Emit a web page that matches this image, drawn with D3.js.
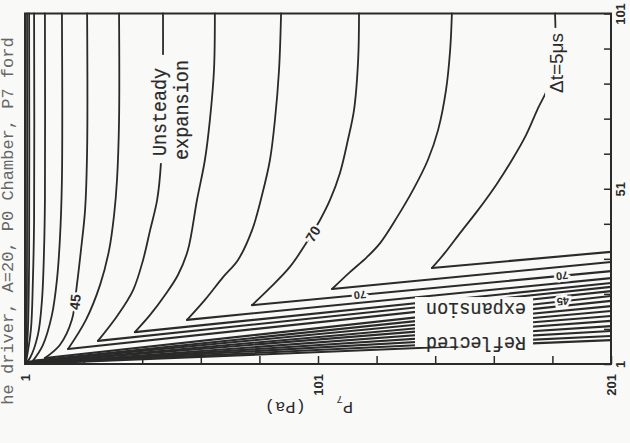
<!DOCTYPE html>
<html>
<head>
<meta charset="utf-8">
<script src="https://cdn.jsdelivr.net/npm/d3@7"></script>
<style>
body { margin: 0; background: #f9f9f7; }
svg { display: block; }
.mono { font-family: "Liberation Mono", "Courier New", Courier, "DejaVu Sans Mono", monospace; }
</style>
</head>
<body>
<script>
// contour levels, delta t = 5 us
const levels = [80, 75, 70, 65, 60, 55, 50, 45, 40, 35, 30, 25, 20, 15, 10, 5, 0];

// unsteady expansion branches, [P7 (Pa), t], from the top edge down to the cusp
const u80 = [[181.9,101.0],[181.9,92.0],[179.8,80.6],[176.1,74.0],[172.0,66.3],[167.2,59.2],[161.8,52.1],[155.6,44.9],[149.8,38.7],[144.3,32.7],[139.9,28.4]];
const u75 = [[146.7,101.0],[146.1,90.6],[144.7,79.2],[142.0,67.8],[138.5,59.2],[133.4,50.6],[128.0,42.9],[122.2,35.5],[117.7,31.5],[111.9,27.2],[105.8,22.4]];
const u70 = [[115.0,101.0],[114.7,87.7],[113.3,73.5],[111.2,64.9],[108.5,55.5],[105.1,47.8],[101.7,42.1],[96.6,35.0],[91.4,28.7],[84.6,22.7],[78.5,17.8]];
const u65 = [[88.4,101.0],[87.7,84.9],[86.3,70.6],[84.6,59.2],[81.9,49.2],[78.5,39.2],[73.7,30.7],[68.6,25.8],[62.4,19.3],[56.3,13.6]];
const u60 = [[65.8,101.0],[65.5,84.9],[64.1,70.6],[62.4,59.2],[59.7,47.8],[56.6,33.5],[53.2,26.4],[48.8,20.7],[43.7,15.0],[38.5,10.1]];
const u55 = [[48.1,101.0],[48.1,87.7],[47.8,70.6],[47.4,58.3],[46.1,47.8],[43.7,39.2],[41.3,30.7],[37.9,22.1],[32.7,15.0],[25.9,7.6]];
const u50 = [[33.1,101.0],[33.1,70.6],[32.4,53.5],[31.4,43.5],[29.7,33.5],[26.6,23.5],[21.8,13.6],[15.7,5.3]];
const u45 = [[22.2,101.0],[22.2,62.1],[21.5,44.9],[20.1,33.5],[18.7,23.5],[17.0,13.6],[12.9,6.4],[7.8,2.7]];
const u40 = [[13.6,101.0],[13.6,53.5],[12.9,36.4],[11.9,25.0],[10.2,15.0],[7.1,6.4],[3.7,1.9]];
const u35 = [[7.8,101.0],[7.8,47.8],[7.5,33.5],[6.8,19.3],[5.4,9.3],[2.7,2.7],[1.7,1.6]];
const u30 = [[4.1,101.0],[4.1,42.1],[3.7,25.0],[3.0,10.7],[1.3,1.3]];
const u25 = [[2.4,101.0],[2.4,30.7],[2.0,10.7],[1.3,1.3]];
const u20 = [[1.7,101.0],[1.7,40.0],[1.5,10.0],[1.0,1.0]];
const unsteady = [u80, u75, u70, u65, u60, u55, u50, u45, u40, u35, u30, u25, u20, null, null, null, null];

// reflected expansion: t where each contour meets the P7 = 201 edge
const reflectedEnd = [33.0, 30.1, 27.5, 25.5, 24.1, 23.0, 21.8, 20.4, 19.0, 17.5, 16.1, 14.7, 13.3, 11.8, 10.4, 9.0, 7.8];
const origin = [1, 1];

// labels on the reflected part: [level, P7]
const fanLabels = [[70, 115.3], [70, 184.3], [45, 184.6]];

const xTicks = d3.range(1, 202, 20);
const xLabels = [1, 101, 201];
const yTicks = d3.range(1, 102, 10);
const yLabels = [1, 51, 101];

const W = 630, H = 443, BG = "#f9f9f7", INK = "#2a2a2a";

const x = d3.scaleLinear().domain([1, 201]).range([25, 611]);
const y = d3.scaleLinear().domain([1, 101]).range([364, 13.5]);

const svg = d3.select("body").append("svg").attr("width", W).attr("height", H);
svg.append("rect").attr("width", W).attr("height", H).attr("fill", BG);

// caption cut off at the page edge
svg.append("text").attr("class", "mono")
  .attr("transform", "translate(13,221) rotate(-90)")
  .attr("text-anchor", "middle")
  .style("font-size", "17px")
  .attr("fill", "#666")
  .text("he driver, A=20, P0 Chamber, P7 ford");

const line = d3.line().x(d => x(d[0])).y(d => y(d[1])).curve(d3.curveCatmullRom.alpha(0.5));

const table = levels.map((lev, i) => {
  const up = unsteady[i];
  const cusp = up ? up[up.length - 1] : origin;
  return { lev, up, cusp, end: [201, reflectedEnd[i]] };
});

const g = svg.append("g")
  .attr("fill", "none").attr("stroke", INK)
  .attr("stroke-linejoin", "round").attr("stroke-linecap", "round");

// unsteady branch
g.selectAll("path.u").data(table.filter(d => d.up)).enter().append("path")
  .attr("class", "u").attr("stroke-width", 1.8)
  .attr("d", d => line(d.up));

// reflected branch, cusp to right edge
g.selectAll("path.r").data(table).enter().append("path")
  .attr("class", "r").attr("stroke-width", 2.1)
  .attr("d", d => d3.line()([[x(d.cusp[0]), y(d.cusp[1])], [x(d.end[0]), y(d.end[1])]]));

// label gaps
svg.append("rect")
  .attr("x", x(42.6)).attr("y", y(89.2))
  .attr("width", x(59.0) - x(42.6)).attr("height", y(58.3) - y(89.2))
  .attr("fill", BG);
svg.append("rect")
  .attr("x", x(178.5)).attr("y", y(96.9))
  .attr("width", x(185.6) - x(178.5)).attr("height", y(76.3) - y(96.9))
  .attr("fill", BG);
svg.append("rect")
  .attr("x", x(134.1)).attr("y", y(20.1))
  .attr("width", x(174.4) - x(134.1)).attr("height", y(5.9) - y(20.1))
  .attr("fill", BG);

const mono = sel => sel.attr("class", "mono").style("font-size", "21px")
  .attr("fill", INK).attr("stroke", INK).attr("stroke-width", 0.2)
  .attr("lengthAdjust", "spacingAndGlyphs").attr("text-anchor", "middle");

svg.append("text").call(mono).attr("textLength", 88)
  .attr("transform", "translate(166,112) rotate(-90)").text("Unsteady");
svg.append("text").call(mono).attr("textLength", 100)
  .attr("transform", "translate(188,110) rotate(-90)").text("expansion");
svg.append("text").call(mono).attr("textLength", 100)
  .attr("transform", "translate(476,337) rotate(180)").text("Reflected");
svg.append("text").call(mono).attr("textLength", 100)
  .attr("transform", "translate(476,303) rotate(180)").text("expansion");

svg.append("text")
  .attr("transform", "translate(563,63) rotate(-90)")
  .attr("text-anchor", "middle")
  .style("font-family", "Liberation Sans").style("font-size", "19px")
  .attr("fill", INK)
  .text("\u0394t=5\u03bcs");

// contour value labels
const numLabel = (px, py, ang, txt, size) => svg.append("text")
  .attr("transform", `translate(${px},${py}) rotate(${ang})`)
  .attr("text-anchor", "middle").attr("dy", "0.35em")
  .style("font-family", "Liberation Sans").style("font-weight", "bold").style("font-size", size + "px")
  .attr("fill", INK).attr("stroke", BG).attr("stroke-width", 5).attr("paint-order", "stroke")
  .text(txt);

numLabel(x(18.1), y(18.7), -84, "45", 14);
numLabel(x(99.3), y(38.1), -59, "70", 14);

fanLabels.forEach(([lev, p]) => {
  const d = table[levels.indexOf(lev)];
  const f = (p - d.cusp[0]) / (d.end[0] - d.cusp[0]);
  const t = d.cusp[1] + f * (d.end[1] - d.cusp[1]);
  const ang = Math.atan2(y(d.end[1]) - y(d.cusp[1]), x(d.end[0]) - x(d.cusp[0])) * 180 / Math.PI;
  numLabel(x(p), y(t), 180 + ang, lev, 11);
});

// axes
const tickFont = sel => sel.style("font-family", "Liberation Sans").style("font-weight", "bold")
  .style("font-size", "13px").attr("fill", INK);

const xa = svg.append("g").attr("transform", `translate(0,${y(1)})`)
  .call(d3.axisBottom(x).tickValues(xTicks).tickSize(-8)
    .tickFormat(d => xLabels.includes(d) ? d : ""));
xa.select(".domain").remove();
xa.selectAll("line").attr("stroke", INK).attr("stroke-width", 1.5);
xa.selectAll("text").call(tickFont)
  .attr("transform", "rotate(-90)").attr("text-anchor", "end")
  .attr("x", -10).attr("y", 0).attr("dy", "0.35em");

const ya = svg.append("g").attr("transform", `translate(${x(201)},0)`)
  .call(d3.axisRight(y).tickValues(yTicks).tickSize(-7)
    .tickFormat(d => yLabels.includes(d) ? d : ""));
ya.select(".domain").remove();
ya.selectAll("line").attr("stroke", INK).attr("stroke-width", 1.5);
ya.selectAll("text").call(tickFont)
  .attr("transform", "rotate(-90)").attr("text-anchor", "middle")
  .attr("x", 0).attr("y", 14).attr("dy", 0);

svg.append("rect")
  .attr("x", x(1)).attr("y", y(101))
  .attr("width", x(201) - x(1)).attr("height", y(1) - y(101))
  .attr("fill", "none").attr("stroke", INK).attr("stroke-width", 2);

// axis title, printed upside down
const title = svg.append("text").attr("class", "mono")
  .attr("transform", "translate(309,402) rotate(180)")
  .attr("text-anchor", "middle")
  .style("font-size", "17px")
  .style("white-space", "pre")
  .attr("fill", INK);
title.append("tspan").text("P");
title.append("tspan").attr("dy", 6).style("font-size", "11px").text("7");
title.append("tspan").attr("dy", -6).text("   (Pa)");
</script>
</body>
</html>
